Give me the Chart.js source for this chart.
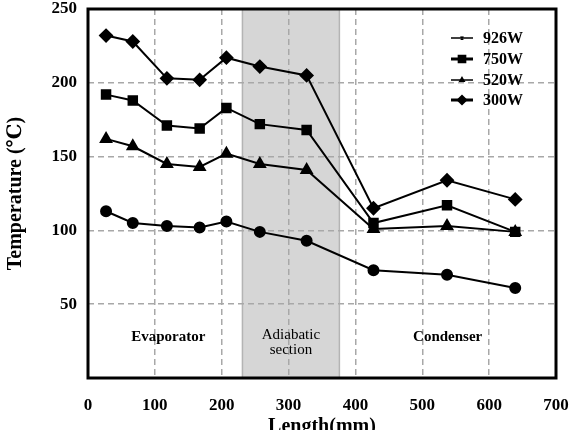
<!DOCTYPE html>
<html>
<head>
<meta charset="utf-8">
<script src="https://cdn.jsdelivr.net/npm/chart.js@4/dist/chart.umd.min.js"></script>
<style>
  html, body { margin: 0; padding: 0; background: #fff; }
  #wrap { width: 578px; height: 430px; }
</style>
</head>
<body>
<div id="wrap"><canvas id="tempChart" width="578" height="430"></canvas></div>
<script>
// data
const lengths = [27, 67, 118, 167, 207, 257, 327, 427, 537, 639];
const power926 = [232, 228, 203, 202, 217, 211, 205, 115, 134, 121];
const power750 = [192, 188, 171, 169, 183, 172, 168, 105, 117, 99];
const power520 = [162, 157, 145, 143, 152, 145, 141, 101, 103, 99];
const power300 = [113, 105, 103, 102, 106, 99, 93, 73, 70, 61];
const seriesNames = ['926W', '750W', '520W', '300W'];
const xTicks = [0, 100, 200, 300, 400, 500, 600, 700];
const yTicks = [50, 100, 150, 200, 250];
const adiabaticRange = [231, 376];

const serif = "'Liberation Serif', 'DejaVu Serif', serif";

function toPoints(values) {
  return values.map((v, i) => ({ x: lengths[i], y: v }));
}

function makeSet(label, values, style, radius) {
  return {
    label: label,
    data: toPoints(values),
    borderColor: '#000',
    backgroundColor: '#000',
    borderWidth: 2,
    pointStyle: style,
    pointRadius: radius,
    pointHoverRadius: radius,
    tension: 0
  };
}

// gray band for the adiabatic section, under the grid
const bandPlugin = {
  id: 'band',
  beforeDraw(chart) {
    const { ctx, chartArea, scales } = chart;
    const x1 = scales.x.getPixelForValue(adiabaticRange[0]);
    const x2 = scales.x.getPixelForValue(adiabaticRange[1]);
    ctx.save();
    ctx.fillStyle = '#d6d6d6';
    ctx.fillRect(x1, chartArea.top, x2 - x1, chartArea.bottom - chartArea.top);
    ctx.strokeStyle = '#b4b4b4';
    ctx.lineWidth = 1.5;
    ctx.strokeRect(x1, chartArea.top, x2 - x1, chartArea.bottom - chartArea.top);
    ctx.restore();
  }
};

// frame, region labels and legend
const decorPlugin = {
  id: 'decor',
  afterDraw(chart) {
    const { ctx, chartArea, scales } = chart;
    ctx.save();
    ctx.strokeStyle = '#000';
    ctx.lineWidth = 3;
    ctx.strokeRect(chartArea.left, chartArea.top, chartArea.right - chartArea.left, chartArea.bottom - chartArea.top);

    ctx.fillStyle = '#000';
    ctx.textAlign = 'center';
    ctx.textBaseline = 'middle';
    ctx.font = "bold 15px " + serif;
    ctx.fillText('Evaporator', scales.x.getPixelForValue(120), scales.y.getPixelForValue(28));
    ctx.fillText('Condenser', scales.x.getPixelForValue(538), scales.y.getPixelForValue(28));
    ctx.font = "15px " + serif;
    const mid = (adiabaticRange[0] + adiabaticRange[1]) / 2;
    ctx.fillText('Adiabatic', scales.x.getPixelForValue(mid), scales.y.getPixelForValue(29));
    ctx.fillText('section', scales.x.getPixelForValue(mid), scales.y.getPixelForValue(19));

    // legend
    const rows = [38, 59, 80, 100];
    const widths = [1.5, 3, 1.5, 3];
    const styles = ['crossRot', 'rect', 'triangle', 'rectRot'];
    const sizes = [2, 4, 2.5, 3.5];
    ctx.font = "bold 16px " + serif;
    ctx.textAlign = 'left';
    rows.forEach((y, i) => {
      ctx.lineWidth = widths[i];
      ctx.beginPath();
      ctx.moveTo(451, y);
      ctx.lineTo(473, y);
      ctx.stroke();
      Chart.helpers.drawPoint(ctx, { pointStyle: styles[i], radius: sizes[i], borderWidth: 1.5 }, 462, y);
      ctx.fill();
      ctx.fillText(seriesNames[i], 483, y + 1);
    });
    ctx.restore();
  }
};

const data = {
  datasets: [
    makeSet(seriesNames[0], power926, 'rectRot', 6),
    makeSet(seriesNames[1], power750, 'rect', 6),
    makeSet(seriesNames[2], power520, 'triangle', 6),
    makeSet(seriesNames[3], power300, 'circle', 5)
  ]
};

const gridColor = ctx => (ctx.tick && (ctx.tick.value === 0 || ctx.tick.value === 700 || ctx.tick.value === 250)) ? 'rgba(0,0,0,0)' : '#a8a8a8';

const config = {
  type: 'line',
  data,
  options: {
    responsive: false,
    animation: false,
    layout: { padding: { top: 9, right: 22, left: 0, bottom: 0 } },
    plugins: {
      legend: { display: false },
      tooltip: { enabled: false }
    },
    scales: {
      x: {
        type: 'linear',
        min: 0,
        max: 700,
        afterBuildTicks: scale => { scale.ticks = xTicks.map(v => ({ value: v })); },
        afterFit: scale => { scale.height = 52; scale.paddingLeft = 0; scale.paddingRight = 0; },
        ticks: {
          color: '#000',
          padding: 17,
          maxRotation: 0,
          font: { family: serif, size: 17, weight: 'bold' }
        },
        grid: { color: gridColor, lineWidth: 1.5, drawTicks: false },
        border: { display: false, dash: [6, 4] },
        title: {
          display: true,
          text: 'Length(mm)',
          color: '#000',
          padding: { top: 0, bottom: -9 },
          font: { family: serif, size: 20, weight: 'bold' }
        }
      },
      y: {
        min: 0,
        max: 250,
        afterBuildTicks: scale => { scale.ticks = yTicks.map(v => ({ value: v })); },
        afterFit: scale => { scale.width = 88; scale.paddingTop = 0; scale.paddingBottom = 0; },
        ticks: {
          color: '#000',
          padding: 11,
          font: { family: serif, size: 17, weight: 'bold' }
        },
        grid: { color: gridColor, lineWidth: 1.5, drawTicks: false },
        border: { display: false, dash: [6, 4] },
        title: {
          display: true,
          text: 'Temperature (℃)',
          color: '#000',
          padding: { top: 4, bottom: 0 },
          font: { family: serif, size: 20, weight: 'bold' }
        }
      }
    }
  },
  plugins: [bandPlugin, decorPlugin]
};

const tempChart = new Chart(document.getElementById('tempChart'), config);
</script>
</body>
</html>
